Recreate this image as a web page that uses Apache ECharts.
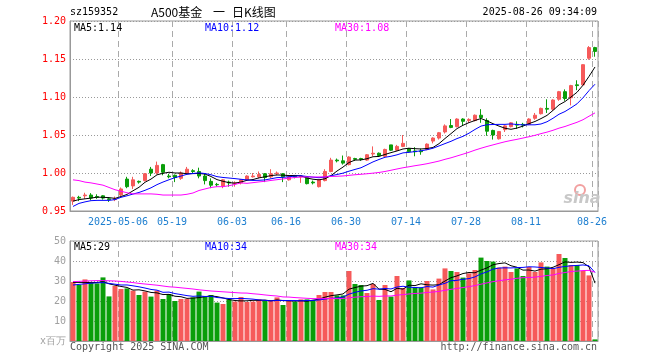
<!DOCTYPE html>
<html><head><meta charset="utf-8">
<script src="https://cdn.jsdelivr.net/npm/echarts@6/dist/echarts.min.js"></script>
<style>html,body{margin:0;padding:0;background:#fff}#c{width:660px;height:360px}</style>
</head><body><div id="c"></div>
<script>
const dates = [
'2025-04-21','2025-04-22','2025-04-23','2025-04-24','2025-04-25','2025-04-28','2025-04-29','2025-04-30',
'2025-05-06','2025-05-07','2025-05-08','2025-05-09','2025-05-12','2025-05-13','2025-05-14','2025-05-15','2025-05-16',
'2025-05-19','2025-05-20','2025-05-21','2025-05-22','2025-05-23','2025-05-26','2025-05-27','2025-05-28','2025-05-29','2025-05-30',
'2025-06-03','2025-06-04','2025-06-05','2025-06-06','2025-06-09','2025-06-10','2025-06-11','2025-06-12','2025-06-13',
'2025-06-16','2025-06-17','2025-06-18','2025-06-19','2025-06-20','2025-06-23','2025-06-24','2025-06-25','2025-06-26','2025-06-27',
'2025-06-30','2025-07-01','2025-07-02','2025-07-03','2025-07-04','2025-07-07','2025-07-08','2025-07-09','2025-07-10','2025-07-11',
'2025-07-14','2025-07-15','2025-07-16','2025-07-17','2025-07-18','2025-07-21','2025-07-22','2025-07-23','2025-07-24','2025-07-25',
'2025-07-28','2025-07-29','2025-07-30','2025-07-31','2025-08-01','2025-08-04','2025-08-05','2025-08-06','2025-08-07','2025-08-08',
'2025-08-11','2025-08-12','2025-08-13','2025-08-14','2025-08-15','2025-08-18','2025-08-19','2025-08-20','2025-08-21','2025-08-22',
'2025-08-25','2025-08-26'];

const opens = [0.963,0.968,0.970,0.971,0.969,0.970,0.966,0.965,0.971,0.992,
0.983,0.989,0.990,1.005,1.000,1.011,0.996,0.997,0.993,0.999,
1.003,1.002,0.996,0.989,0.985,0.983,0.988,0.986,0.987,0.991,
0.995,0.995,0.999,0.995,0.999,0.999,0.991,0.996,0.995,0.994,
0.988,0.982,0.990,1.002,1.017,1.016,1.011,1.019,1.019,1.017,
1.025,1.026,1.022,1.037,1.030,1.035,1.032,1.029,1.029,1.031,
1.042,1.046,1.054,1.0625,1.061,1.071,1.069,1.069,1.076,1.069,
1.056,1.045,1.057,1.061,1.064,1.064,1.064,1.072,1.078,1.085,
1.084,1.097,1.107,1.099,1.116,1.116,1.151,1.165];

const closes = [0.968,0.967,0.971,0.967,0.968,0.967,0.965,0.966,0.979,0.982,
0.991,0.988,0.999,1.000,1.010,1.001,0.995,0.994,1.000,1.005,
1.002,0.996,0.990,0.984,0.9845,0.991,0.987,0.987,0.991,0.996,
0.996,0.998,0.994,0.999,1.000,0.995,0.995,0.995,0.996,0.986,
0.987,0.991,1.002,1.017,1.016,1.013,1.021,1.018,1.018,1.024,
1.026,1.023,1.031,1.030,1.035,1.039,1.028,1.028,1.028,1.038,
1.046,1.053,1.062,1.060,1.071,1.068,1.0705,1.076,1.073,1.055,
1.050,1.0545,1.062,1.066,1.063,1.063,1.071,1.076,1.085,1.084,
1.096,1.107,1.098,1.115,1.115,1.1425,1.165,1.160];

const lows = [0.958,0.963,0.966,0.964,0.966,0.965,0.962,0.963,0.969,0.980,
0.979,0.986,0.989,0.996,0.998,0.997,0.993,0.988,0.991,0.998,
1.000,0.993,0.985,0.980,0.982,0.980,0.982,0.982,0.985,0.990,
0.994,0.993,0.988,0.993,0.997,0.988,0.990,0.993,0.987,0.985,
0.985,0.981,0.989,1.001,1.014,1.011,1.010,1.016,1.016,1.016,
1.022,1.021,1.021,1.029,1.029,1.034,1.027,1.022,1.024,1.030,
1.039,1.044,1.052,1.059,1.060,1.062,1.066,1.068,1.066,1.049,
1.044,1.044,1.054,1.060,1.058,1.060,1.063,1.070,1.077,1.079,
1.082,1.095,1.095,1.089,1.109,1.115,1.149,1.153];

const highs = [0.969,0.970,0.974,0.9735,0.972,0.971,0.968,0.969,0.981,0.995,
0.995,0.990,1.000,1.008,1.015,1.012,0.999,0.998,1.002,1.008,
1.005,1.007,0.999,0.993,0.987,0.992,0.990,0.989,0.992,0.997,
1.000,1.002,1.000,1.005,1.002,1.000,0.997,0.997,0.997,0.995,
0.990,0.992,1.005,1.020,1.019,1.023,1.022,1.020,1.020,1.025,
1.035,1.027,1.032,1.037,1.037,1.050,1.033,1.034,1.032,1.039,
1.047,1.054,1.064,1.071,1.072,1.072,1.072,1.077,1.084,1.072,
1.057,1.055,1.063,1.067,1.068,1.066,1.072,1.079,1.086,1.097,
1.097,1.108,1.110,1.116,1.122,1.143,1.167,1.166];

const volumes = [29.5,28,30.8,29.2,28.8,31.8,22.3,27.5,26,26.3,
25.2,23,24.7,22.2,25.2,21,23.5,20,21,21,
21.8,24.7,22.2,23,19.2,18.5,20.8,19.7,22,19.5,
19.7,20.8,20.2,20.2,21.8,18,20.2,19.7,20.8,20.8,
20.5,23,24.5,24.5,22.8,22.8,35,28.5,28,24,
28.5,20.5,28,22.2,32.5,26.5,30.3,27,26.7,30,
25.8,31.2,36.3,35,34.5,31.7,33.8,35.5,41.7,40,
39.7,36.7,37.2,34.5,36.3,32.5,37,34.5,39.3,37.2,
36.3,43.5,41.5,38,38,35,32.8,0.8];

// moving-average values for the days before the window fills
const priceMA5Head = [0.963,0.965,0.966,0.967];
const priceMA10Head = [0.956,0.960,0.962,0.9636,0.964,0.964,0.964,0.965,0.968];
const priceMA30Head = [0.991,0.990,0.988,0.987,0.9855,0.984,0.981,0.978,0.976,0.974,
0.9725,0.9725,0.9725,0.9725,0.972,0.971,0.971,0.971,0.971,0.972,
0.9737,0.977,0.979,0.981,0.982,0.982,0.9833,0.985,0.987];
const volMA5Head = [29.3,29.3,29.3,29.2];
const volMA10Head = [28,28.3,28.6,28.9,29.1,29.2,28.8,28.4,28];
const volMA30Head = [29.7,29.8,30,30.1,30.2,30.2,30.1,30,29.8,29.5,29.2,28.8,28.5,28.2,27.9,
27.5,27.1,26.9,26.6,26.3,26,25.6,25.3,25,24.8,24.6,24.4,24.2,24.0];

const xLabelIdx = [8,17,27,36,46,56,66,76,87];
const xLabels = ['2025-05-06','05-19','06-03','06-16','06-30','07-14','07-28','08-11','08-26'];
const volTickLabels = {0:'x百万',10:'10',20:'20',30:'30',40:'40',50:'50'};
const priceLegend = ['MA5:1.14','MA10:1.12','MA30:1.08'];
const volLegend = ['MA5:29','MA10:34','MA30:34'];

const UP = '#f65a5a', DOWN = '#0a9e0a';
const MONO = '"DejaVu Sans Mono", "Liberation Mono", monospace';
const CJK = '"Noto Sans CJK SC", sans-serif';

function ma(values, n, head) {
  return values.map((v, i) => {
    if (i < head.length) return head[i];
    let s = 0;
    for (let k = i - n + 1; k <= i; k++) s += values[k];
    return +(s / n).toFixed(4);
  });
}

const kData = dates.map((d, i) => [opens[i], closes[i], lows[i], highs[i]]);
const volData = volumes.map((v, i) => ({value: v, itemStyle: {color: closes[i] >= opens[i] ? UP : DOWN}}));

const chart = echarts.init(document.getElementById('c'), null, {renderer: 'canvas'});
const vSplit = {show: true, interval: (idx) => xLabelIdx.includes(idx),
  lineStyle: {color: '#aaa', type: [6, 4], width: 1}};
const hSplit = {show: true, lineStyle: {color: '#999', type: [1, 2], width: 1}};

function txt(x, y, text, color, align, font) {
  return {type: 'text', x: x, y: y, silent: true, z: 100,
    style: {text: text, fill: color, align: align || 'left', verticalAlign: 'middle', font: font || ('10px ' + MONO)}};
}

chart.setOption({
  animation: false,
  backgroundColor: '#fff',
  grid: [
    {left: 70, top: 21, width: 528, height: 190, show: true, borderColor: '#999', borderWidth: 1},
    {left: 70, top: 241, width: 528, height: 100, show: true, borderColor: '#999', borderWidth: 1}
  ],
  xAxis: [
    {type: 'category', gridIndex: 0, data: dates, boundaryGap: true,
     axisLine: {show: true, lineStyle: {color: '#999'}}, axisTick: {show: false},
     axisLabel: {show: true, interval: (idx) => xLabelIdx.includes(idx),
       formatter: (v, idx) => xLabels[xLabelIdx.indexOf(idx)] || '',
       color: '#1e7fd0', fontSize: 10, fontFamily: MONO, margin: 6, padding: [0, 6, 0, 0]},
     splitLine: vSplit},
    {type: 'category', gridIndex: 1, data: dates, boundaryGap: true,
     axisLine: {show: true, lineStyle: {color: '#999'}}, axisTick: {show: false},
     axisLabel: {show: false}, splitLine: vSplit}
  ],
  yAxis: [
    {type: 'value', gridIndex: 0, min: 0.95, max: 1.20, interval: 0.05,
     axisLine: {show: true, lineStyle: {color: '#999'}}, axisTick: {show: false},
     axisLabel: {color: '#ff0000', fontSize: 10, fontFamily: MONO, margin: 4, formatter: v => v.toFixed(2)},
     splitLine: hSplit},
    {type: 'value', gridIndex: 1, min: 0, max: 50, interval: 10,
     axisLine: {show: true, lineStyle: {color: '#999'}}, axisTick: {show: false},
     axisLabel: {color: '#a0a0a0', fontSize: 10, fontFamily: MONO, margin: 4,
       formatter: v => volTickLabels[v] !== undefined ? volTickLabels[v] : ''},
     splitLine: hSplit}
  ],
  series: [
    {type: 'candlestick', xAxisIndex: 0, yAxisIndex: 0, data: kData, barWidth: 4,
     itemStyle: {color: UP, color0: DOWN, borderColor: UP, borderColor0: DOWN, borderWidth: 1}},
    {type: 'line', xAxisIndex: 0, yAxisIndex: 0, data: ma(closes, 5, priceMA5Head), showSymbol: false,
     lineStyle: {color: '#000', width: 1}, z: 3},
    {type: 'line', xAxisIndex: 0, yAxisIndex: 0, data: ma(closes, 10, priceMA10Head), showSymbol: false,
     lineStyle: {color: '#0000ff', width: 1}, z: 3},
    {type: 'line', xAxisIndex: 0, yAxisIndex: 0, data: ma(closes, 30, priceMA30Head), showSymbol: false,
     lineStyle: {color: '#ff00ff', width: 1}, z: 3},
    {type: 'bar', xAxisIndex: 1, yAxisIndex: 1, data: volData, barWidth: 5},
    {type: 'line', xAxisIndex: 1, yAxisIndex: 1, data: ma(volumes, 5, volMA5Head), showSymbol: false,
     lineStyle: {color: '#000', width: 1}, z: 3},
    {type: 'line', xAxisIndex: 1, yAxisIndex: 1, data: ma(volumes, 10, volMA10Head), showSymbol: false,
     lineStyle: {color: '#0000ff', width: 1}, z: 3},
    {type: 'line', xAxisIndex: 1, yAxisIndex: 1, data: ma(volumes, 30, volMA30Head), showSymbol: false,
     lineStyle: {color: '#ff00ff', width: 1}, z: 3}
  ],
  graphic: [
    txt(70, 12, 'sz159352', '#000'),
    txt(151, 12, 'A500基金', '#000', 'left', '12px ' + CJK),
    txt(213, 12, '一', '#000', 'left', '12px ' + CJK),
    txt(232, 12, '日K线图', '#000', 'left', '12px ' + CJK),
    txt(597, 12, '2025-08-26 09:34:09', '#000', 'right'),
    txt(74, 28, priceLegend[0], '#000'),
    txt(205, 28, priceLegend[1], '#0000ff'),
    txt(335, 28, priceLegend[2], '#ff00ff'),
    txt(74, 247, volLegend[0], '#000'),
    txt(205, 247, volLegend[1], '#0000ff'),
    txt(335, 247, volLegend[2], '#ff00ff'),
    txt(70, 347, 'Copyright 2025 SINA.COM', '#555'),
    txt(597, 347, 'http://finance.sina.com.cn', '#555', 'right'),
    {type: 'circle', silent: true, z: 1, shape: {cx: 580, cy: 190, r: 5},
     style: {fill: 'none', stroke: '#f2a0a0', lineWidth: 2}},
    {type: 'text', x: 582, y: 199, silent: true, z: 1,
     style: {text: 'sina', fill: '#c8c8c8', align: 'center', verticalAlign: 'middle', font: 'italic bold 16px "DejaVu Sans", sans-serif'}}
  ]
});
</script>
</body></html>
